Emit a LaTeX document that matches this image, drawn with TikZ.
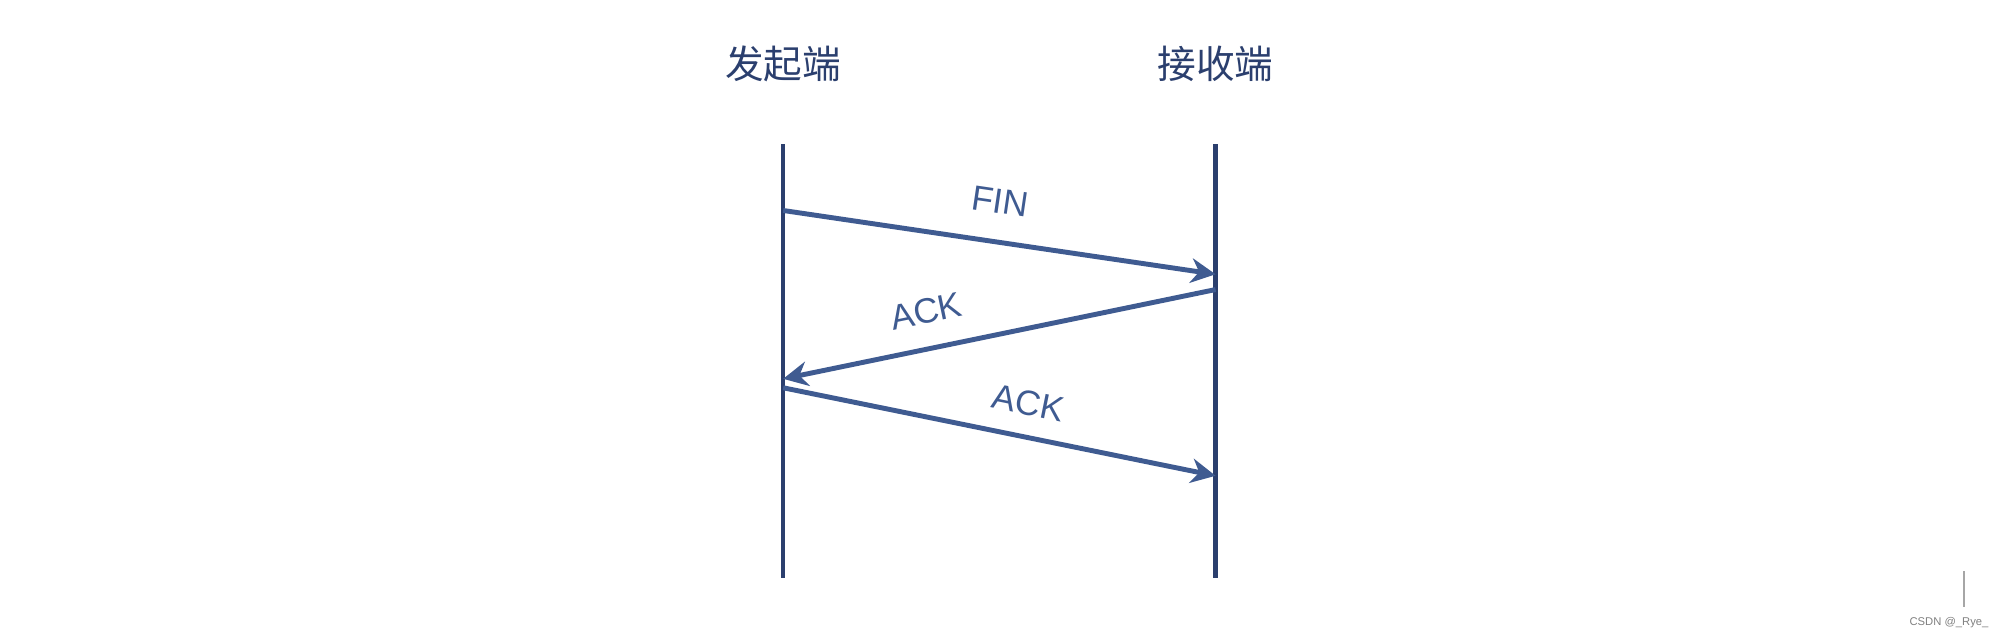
\documentclass[tikz,border=0pt]{standalone}
\usepackage{fontspec}
\setmainfont{Liberation Sans}
\newfontfamily\cjk{Noto Sans CJK SC}
\usetikzlibrary{arrows.meta, positioning}
\definecolor{navy}{HTML}{2B3F6E}
\definecolor{msgblue}{HTML}{3F5B91}
\begin{document}
\begin{tikzpicture}[
        x=0.012755cm, y=-0.012755cm,
        party/.style={font=\cjk\fontsize{11}{13}\selectfont, text=navy, inner sep=0pt},
        lifeline/.style={navy, line width=1.3pt},
        msg/.style={msgblue, line width=1.4pt, -{Stealth[length=7pt, width=7pt]}},
        label/.style={font=\fontsize{10}{12}\selectfont, text=msgblue, inner sep=0pt}
    ]
    \useasboundingbox (0,0) rectangle (1568,501);

    % Parties
    \node [party] (A) at (614,50) {发起端};
    \node [party] (B) at (953,50) {接收端};

    % Lifelines
    \coordinate (At) at (614,113);
    \coordinate (Ab) at (614,453);
    \coordinate (Bt) at (953,113);
    \coordinate (Bb) at (953,453);
    \draw [lifeline] (At) -- (Ab);
    \draw [lifeline] (Bt) -- (Bb);

    % Messages
    \coordinate (a1) at (614,165);
    \coordinate (b1) at (953,215);
    \coordinate (b2) at (953,227);
    \coordinate (a2) at (614,297);
    \coordinate (a3) at (614,304);
    \coordinate (b3) at (953,373);
    \draw [msg] (a1) -- (b1);
    \draw [msg] (b2) -- (a2);
    \draw [msg] (a3) -- (b3);
    \node [label, rotate=-8.4] (fin) at (784,158) {FIN};
    \node [label, rotate=11.7] (ack1) at (726,244) {ACK};
    \node [label, rotate=-11.5] (ack2) at (806,316) {ACK};

    % Watermark
    \draw [gray!70, line width=0.5pt] (1540,448) -- (1540,476);
    \node [font=\fontsize{3.2}{4}\selectfont, text=gray, inner sep=0pt] (wm) at (1528,488) {CSDN @\_Rye\_};
\end{tikzpicture}
\end{document}
